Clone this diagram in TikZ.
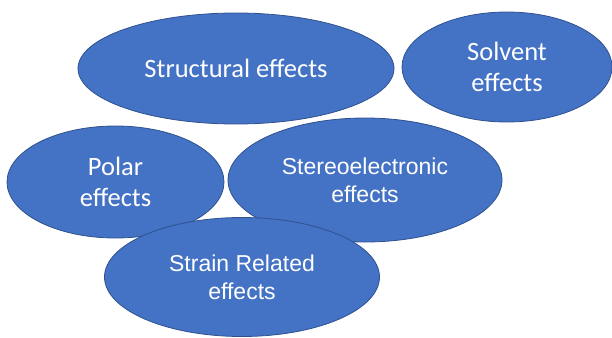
\documentclass[tikz,border=0pt]{standalone}
\usepackage{fontspec}
\setmainfont{Carlito}
\newfontfamily\arialfont{Liberation Sans}
\usetikzlibrary{shapes.geometric}
\definecolor{bluefill}{HTML}{4472C4}
\definecolor{blueline}{HTML}{2F528F}
\begin{document}
\begin{tikzpicture}[x=1pt,y=-1pt,
  blob/.style={ellipse, draw=blueline, fill=bluefill, line width=0.8pt, inner sep=0pt,
    text=white, align=center, font=\fontsize{26.5}{31}\selectfont},
  blobarial/.style={blob, font=\arialfont\fontsize{23}{28}\selectfont}]
\useasboundingbox (0,0) rectangle (612,337);
\node[blob, minimum width=316pt, minimum height=111pt] (structural) at (236,68.5) {Structural effects};
\node[blob, minimum width=210pt, minimum height=110pt] (solvent) at (507,67) {Solvent\\effects};
\node[blob, minimum width=217pt, minimum height=112pt] (polar) at (115.5,182) {Polar\\effects};
\node[blobarial, minimum width=274pt, minimum height=124pt] (stereo) at (365,180) {Stereoelectronic\\effects};
\node[blobarial, minimum width=275pt, minimum height=119pt] (strain) at (242,277) {Strain Related\\effects};
\end{tikzpicture}
\end{document}
